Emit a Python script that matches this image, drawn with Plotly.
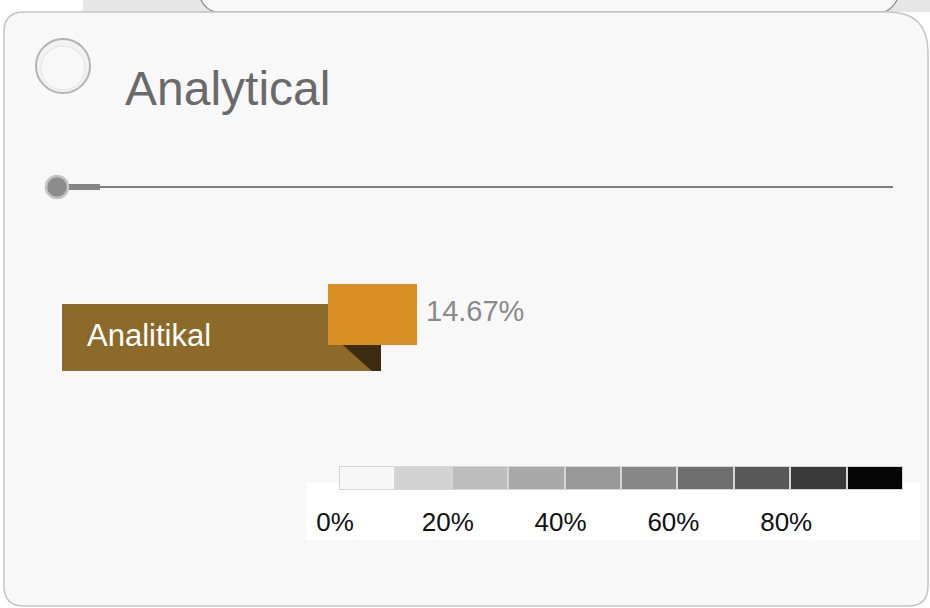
import plotly.graph_objects as go

# ---- data -------------------------------------------------------------
TITLE = "Analytical"
CATEGORY = "Analitikal"
VALUE = 14.67  # percent

SCALE_BINS = [0, 10, 20, 30, 40, 50, 60, 70, 80, 90]   # left edge of each band (%)
SCALE_COLORS = ["#f7f7f7", "#d3d3d3", "#bebebe", "#a9a9a9", "#989898",
                "#878787", "#6e6e6e", "#585858", "#3a3a3a", "#050505"]
SCALE_TICKS = [0, 20, 40, 60, 80]
SCALE_TICK_TEXT = ["0%", "20%", "40%", "60%", "80%"]

# ---- canvas helpers ---------------------------------------------------
W, H = 930, 608
FONT = "Liberation Sans, Arial, sans-serif"


def px(x):
    return x / W


def py(y):
    return 1 - y / H


shapes = []


def rect(x0, y0, x1, y1, fill, line=None, lw=0):
    shapes.append(dict(type="rect", xref="paper", yref="paper",
                       x0=px(x0), x1=px(x1), y0=py(y1), y1=py(y0),
                       fillcolor=fill, line=dict(color=line or fill, width=lw),
                       layer="below"))


def circle(cx, cy, r, fill, line, lw):
    shapes.append(dict(type="circle", xref="paper", yref="paper",
                       x0=px(cx - r), x1=px(cx + r), y0=py(cy + r), y1=py(cy - r),
                       fillcolor=fill, line=dict(color=line, width=lw),
                       layer="below"))


def path(points_cmds, fill, line, lw):
    d = ""
    for cmd, *pts in points_cmds:
        d += cmd
        coords = []
        for i in range(0, len(pts), 2):
            coords.append(f"{px(pts[i]):.5f},{py(pts[i + 1]):.5f}")
        d += " ".join(coords) + " "
    shapes.append(dict(type="path", xref="paper", yref="paper", path=d.strip(),
                       fillcolor=fill, line=dict(color=line, width=lw),
                       layer="below"))


def hline(x0, x1, y, color, lw):
    shapes.append(dict(type="line", xref="paper", yref="paper",
                       x0=px(x0), x1=px(x1), y0=py(y), y1=py(y),
                       line=dict(color=color, width=lw), layer="below"))


# ---- background: tab strip above the card -----------------------------
rect(83, -2, 932, 12, "#e6e6e6")
path([("M", 200, -2), ("Q", 205, 10, 216, 12), ("L", 884, 12),
      ("Q", 893, 9, 898, -2), ("Z",)], "#f9f9f9", "#8a8a8a", 1.2)

# ---- card -------------------------------------------------------------
L, T, R, B = 4, 12, 928, 606
r1, r2 = 20, 40
path([("M", L + r1, T), ("L", R - r2, T), ("Q", R, T, R, T + r2),
      ("L", R, B - r1), ("Q", R, B, R - r1, B), ("L", L + r1, B),
      ("Q", L, B, L, B - r1), ("L", L, T + r1), ("Q", L, T, L + r1, T), ("Z",)],
     "#f8f8f8", "#c4c4c4", 1.5)

# header bullet
circle(63, 66, 27, "#f2f2f2", "#b3b3b3", 2)
circle(63, 68, 22, "#f8f8f8", "#e4e4e4", 1)

# divider with knob
hline(45, 893, 187, "#7e7e7e", 2)
hline(57, 100, 187, "#858585", 6)
circle(57, 187, 11, "#8c8c8c", "#c4c4c4", 2.5)

# category tag and its folded corner
rect(62, 304, 381, 371, "#8c6a29")
path([("M", 335, 338), ("L", 381, 338), ("L", 381, 371), ("L", 372, 371), ("Z",)],
     "#3d2c11", "#3d2c11", 0)

# white panel under the scale labels
rect(306, 483, 920, 540, "#ffffff")

# ---- traces -----------------------------------------------------------
fig = go.Figure()

# gray-scale legend bar (x / y axes)
fig.add_trace(go.Bar(
    x=[b + 5 for b in SCALE_BINS], y=[1] * len(SCALE_BINS), width=10,
    marker=dict(color=SCALE_COLORS, line=dict(color="#d6d6d6", width=2)),
    hoverinfo="skip", showlegend=False, xaxis="x", yaxis="y"))

# value bar (x2 / y2 axes): length proportional to VALUE
fig.add_trace(go.Bar(
    x=[VALUE], y=[0], orientation="h", width=1,
    marker=dict(color="#d98f24", line=dict(width=0)),
    hoverinfo="skip", showlegend=False, xaxis="x2", yaxis="y2"))

BAR_LEFT_PX, BAR_FULL_PCT = 328, 99.2

fig.update_layout(
    width=W, height=H,
    margin=dict(l=0, r=0, t=0, b=0, pad=0, autoexpand=False),
    paper_bgcolor="#ffffff", plot_bgcolor="rgba(0,0,0,0)",
    bargap=0,
    shapes=shapes,
    xaxis=dict(domain=[px(339), px(903)], range=[0, 100], showgrid=False,
               zeroline=False, showline=False, ticks="", automargin=False,
               tickvals=SCALE_TICKS, ticktext=SCALE_TICK_TEXT,
               tickfont=dict(family=FONT, size=26, color="#111111"),
               ticklabelstandoff=14, ticklabelshift=-4, fixedrange=True),
    yaxis=dict(domain=[py(490), py(466)], range=[0, 1], visible=False,
               automargin=False, fixedrange=True),
    xaxis2=dict(domain=[px(BAR_LEFT_PX), 1], range=[0, BAR_FULL_PCT],
                visible=False, automargin=False, fixedrange=True),
    yaxis2=dict(domain=[py(345), py(284)], range=[-0.5, 0.5], visible=False,
                automargin=False, fixedrange=True),
    annotations=[
        dict(text=TITLE, xref="paper", yref="paper", x=px(123), y=py(88),
             xanchor="left", yanchor="middle", showarrow=False,
             font=dict(family=FONT, size=48, color="#6a6a6a")),
        dict(text=CATEGORY, xref="paper", yref="paper", x=px(85), y=py(335),
             xanchor="left", yanchor="middle", showarrow=False,
             font=dict(family=FONT, size=31, color="#ffffff")),
        dict(text=f"{VALUE:.2f}%", xref="paper", yref="paper", x=px(424), y=py(311),
             xanchor="left", yanchor="middle", showarrow=False,
             font=dict(family=FONT, size=29, color="#8a8a8a")),
    ],
)

fig.write_html("out.html")
